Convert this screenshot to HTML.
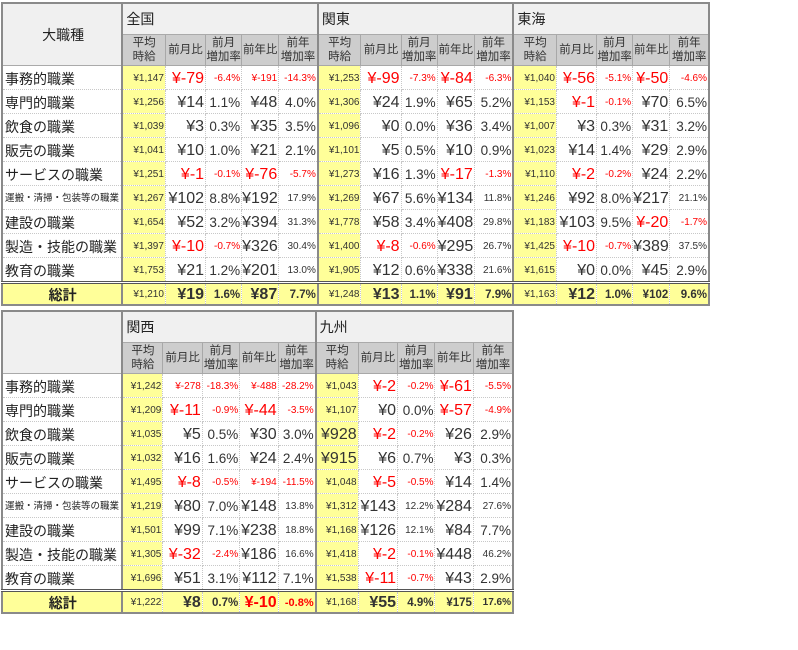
<!DOCTYPE html>
<html><head><meta charset="utf-8">
<style>
body{margin:0;background:#fff;width:798px;height:650px;position:relative;overflow:hidden;font-family:"Liberation Sans","Noto Sans CJK JP",sans-serif;}
table{position:absolute;left:1px;border-collapse:collapse;table-layout:fixed;border:2px solid #8a8a8a;color:#333;}
td{padding:0 1px 0 0;text-align:right;font-size:16px;white-space:nowrap;overflow:hidden;border:1px dotted #c8c8c8;height:23px;vertical-align:bottom;line-height:20px;}
td.l{text-align:left;font-size:14px;padding-left:2px;border-right:2px solid #8a8a8a;color:#222}
td.ls{font-size:9.5px}
td.y{background:#ffff99;font-size:10px;border-left:2px solid #8a8a8a;}
td.p{font-size:13.5px}
td.s{font-size:10px}
.r{color:#f00}
tr.h1 td{height:30px;background:#f0f0f0;text-align:left;font-size:14px;vertical-align:middle;border:1px solid #aaa;border-left:2px solid #8a8a8a;padding-left:3px;color:#222}
tr.h2 td{height:30px;background:#cdcdcd;text-align:center;font-size:11.5px;line-height:14px;vertical-align:middle;border:1px solid #a8a8a8;padding:0;color:#333}
tr.h2 td.y0{border-left:2px solid #8a8a8a}
td.corner{background:#f0f0f0!important;text-align:center!important;font-size:14px!important;border-right:2px solid #8a8a8a!important;vertical-align:middle}
tr.t td{background:#ffff99;font-weight:bold;height:20px;border-top:3px double #555;line-height:18px;}
tr.t td.y{font-weight:normal}
tr.t td.l{text-align:center;font-weight:bold}
</style></head><body>

<table style="top:2px;width:709px">
<colgroup><col style="width:120px"><col style="width:43px"><col style="width:40px"><col style="width:36px"><col style="width:37px"><col style="width:39px"><col style="width:43px"><col style="width:40px"><col style="width:36px"><col style="width:37px"><col style="width:39px"><col style="width:43px"><col style="width:40px"><col style="width:36px"><col style="width:37px"><col style="width:39px"></colgroup>
<tr class="h1"><td class="corner" rowspan="2">大職種</td><td colspan="5">全国</td><td colspan="5">関東</td><td colspan="5">東海</td></tr>
<tr class="h2"><td class="y0">平均<br>時給</td><td>前月比</td><td>前月<br>増加率</td><td>前年比</td><td>前年<br>増加率</td><td class="y0">平均<br>時給</td><td>前月比</td><td>前月<br>増加率</td><td>前年比</td><td>前年<br>増加率</td><td class="y0">平均<br>時給</td><td>前月比</td><td>前月<br>増加率</td><td>前年比</td><td>前年<br>増加率</td></tr>
<tr><td class="l">事務的職業</td><td class="y">¥1,147</td><td class="r">¥-79</td><td class="s r">-6.4%</td><td class="s r">¥-191</td><td class="s r">-14.3%</td><td class="y">¥1,253</td><td class="r">¥-99</td><td class="s r">-7.3%</td><td class="r">¥-84</td><td class="s r">-6.3%</td><td class="y">¥1,040</td><td class="r">¥-56</td><td class="s r">-5.1%</td><td class="r">¥-50</td><td class="s r">-4.6%</td></tr>
<tr><td class="l">専門的職業</td><td class="y">¥1,256</td><td>¥14</td><td class="p">1.1%</td><td>¥48</td><td class="p">4.0%</td><td class="y">¥1,306</td><td>¥24</td><td class="p">1.9%</td><td>¥65</td><td class="p">5.2%</td><td class="y">¥1,153</td><td class="r">¥-1</td><td class="s r">-0.1%</td><td>¥70</td><td class="p">6.5%</td></tr>
<tr><td class="l">飲食の職業</td><td class="y">¥1,039</td><td>¥3</td><td class="p">0.3%</td><td>¥35</td><td class="p">3.5%</td><td class="y">¥1,096</td><td>¥0</td><td class="p">0.0%</td><td>¥36</td><td class="p">3.4%</td><td class="y">¥1,007</td><td>¥3</td><td class="p">0.3%</td><td>¥31</td><td class="p">3.2%</td></tr>
<tr><td class="l">販売の職業</td><td class="y">¥1,041</td><td>¥10</td><td class="p">1.0%</td><td>¥21</td><td class="p">2.1%</td><td class="y">¥1,101</td><td>¥5</td><td class="p">0.5%</td><td>¥10</td><td class="p">0.9%</td><td class="y">¥1,023</td><td>¥14</td><td class="p">1.4%</td><td>¥29</td><td class="p">2.9%</td></tr>
<tr><td class="l">サービスの職業</td><td class="y">¥1,251</td><td class="r">¥-1</td><td class="s r">-0.1%</td><td class="r">¥-76</td><td class="s r">-5.7%</td><td class="y">¥1,273</td><td>¥16</td><td class="p">1.3%</td><td class="r">¥-17</td><td class="s r">-1.3%</td><td class="y">¥1,110</td><td class="r">¥-2</td><td class="s r">-0.2%</td><td>¥24</td><td class="p">2.2%</td></tr>
<tr><td class="l ls">運搬・清掃・包装等の職業</td><td class="y">¥1,267</td><td>¥102</td><td class="p">8.8%</td><td>¥192</td><td class="s">17.9%</td><td class="y">¥1,269</td><td>¥67</td><td class="p">5.6%</td><td>¥134</td><td class="s">11.8%</td><td class="y">¥1,246</td><td>¥92</td><td class="p">8.0%</td><td>¥217</td><td class="s">21.1%</td></tr>
<tr><td class="l">建設の職業</td><td class="y">¥1,654</td><td>¥52</td><td class="p">3.2%</td><td>¥394</td><td class="s">31.3%</td><td class="y">¥1,778</td><td>¥58</td><td class="p">3.4%</td><td>¥408</td><td class="s">29.8%</td><td class="y">¥1,183</td><td>¥103</td><td class="p">9.5%</td><td class="r">¥-20</td><td class="s r">-1.7%</td></tr>
<tr><td class="l">製造・技能の職業</td><td class="y">¥1,397</td><td class="r">¥-10</td><td class="s r">-0.7%</td><td>¥326</td><td class="s">30.4%</td><td class="y">¥1,400</td><td class="r">¥-8</td><td class="s r">-0.6%</td><td>¥295</td><td class="s">26.7%</td><td class="y">¥1,425</td><td class="r">¥-10</td><td class="s r">-0.7%</td><td>¥389</td><td class="s">37.5%</td></tr>
<tr><td class="l">教育の職業</td><td class="y">¥1,753</td><td>¥21</td><td class="p">1.2%</td><td>¥201</td><td class="s">13.0%</td><td class="y">¥1,905</td><td>¥12</td><td class="p">0.6%</td><td>¥338</td><td class="s">21.6%</td><td class="y">¥1,615</td><td>¥0</td><td class="p">0.0%</td><td>¥45</td><td class="p">2.9%</td></tr>
<tr class="t"><td class="l">総計</td><td class="y">¥1,210</td><td>¥19</td><td style="font-size:11.5px">1.6%</td><td>¥87</td><td style="font-size:11.5px">7.7%</td><td class="y">¥1,248</td><td>¥13</td><td style="font-size:11.5px">1.1%</td><td>¥91</td><td style="font-size:11.5px">7.9%</td><td class="y">¥1,163</td><td>¥12</td><td style="font-size:11.5px">1.0%</td><td style="font-size:11.5px">¥102</td><td style="font-size:11.5px">9.6%</td></tr>
</table>

<table style="top:310px;width:513px">
<colgroup><col style="width:119px"><col style="width:40px"><col style="width:39px"><col style="width:37px"><col style="width:38px"><col style="width:37px"><col style="width:42px"><col style="width:39px"><col style="width:37px"><col style="width:38px"><col style="width:39px"></colgroup>
<tr class="h1"><td class="corner" rowspan="2"></td><td colspan="5">関西</td><td colspan="5">九州</td></tr>
<tr class="h2"><td class="y0">平均<br>時給</td><td>前月比</td><td>前月<br>増加率</td><td>前年比</td><td>前年<br>増加率</td><td class="y0">平均<br>時給</td><td>前月比</td><td>前月<br>増加率</td><td>前年比</td><td>前年<br>増加率</td></tr>
<tr><td class="l">事務的職業</td><td class="y">¥1,242</td><td class="s r">¥-278</td><td class="s r">-18.3%</td><td class="s r">¥-488</td><td class="s r">-28.2%</td><td class="y">¥1,043</td><td class="r">¥-2</td><td class="s r">-0.2%</td><td class="r">¥-61</td><td class="s r">-5.5%</td></tr>
<tr><td class="l">専門的職業</td><td class="y">¥1,209</td><td class="r">¥-11</td><td class="s r">-0.9%</td><td class="r">¥-44</td><td class="s r">-3.5%</td><td class="y">¥1,107</td><td>¥0</td><td class="p">0.0%</td><td class="r">¥-57</td><td class="s r">-4.9%</td></tr>
<tr><td class="l">飲食の職業</td><td class="y">¥1,035</td><td>¥5</td><td class="p">0.5%</td><td>¥30</td><td class="p">3.0%</td><td class="y" style="font-size:16px">¥928</td><td class="r">¥-2</td><td class="s r">-0.2%</td><td>¥26</td><td class="p">2.9%</td></tr>
<tr><td class="l">販売の職業</td><td class="y">¥1,032</td><td>¥16</td><td class="p">1.6%</td><td>¥24</td><td class="p">2.4%</td><td class="y" style="font-size:16px">¥915</td><td>¥6</td><td class="p">0.7%</td><td>¥3</td><td class="p">0.3%</td></tr>
<tr><td class="l">サービスの職業</td><td class="y">¥1,495</td><td class="r">¥-8</td><td class="s r">-0.5%</td><td class="s r">¥-194</td><td class="s r">-11.5%</td><td class="y">¥1,048</td><td class="r">¥-5</td><td class="s r">-0.5%</td><td>¥14</td><td class="p">1.4%</td></tr>
<tr><td class="l ls">運搬・清掃・包装等の職業</td><td class="y">¥1,219</td><td>¥80</td><td class="p">7.0%</td><td>¥148</td><td class="s">13.8%</td><td class="y">¥1,312</td><td>¥143</td><td class="s">12.2%</td><td>¥284</td><td class="s">27.6%</td></tr>
<tr><td class="l">建設の職業</td><td class="y">¥1,501</td><td>¥99</td><td class="p">7.1%</td><td>¥238</td><td class="s">18.8%</td><td class="y">¥1,168</td><td>¥126</td><td class="s">12.1%</td><td>¥84</td><td class="p">7.7%</td></tr>
<tr><td class="l">製造・技能の職業</td><td class="y">¥1,305</td><td class="r">¥-32</td><td class="s r">-2.4%</td><td>¥186</td><td class="s">16.6%</td><td class="y">¥1,418</td><td class="r">¥-2</td><td class="s r">-0.1%</td><td>¥448</td><td class="s">46.2%</td></tr>
<tr><td class="l">教育の職業</td><td class="y">¥1,696</td><td>¥51</td><td class="p">3.1%</td><td>¥112</td><td class="p">7.1%</td><td class="y">¥1,538</td><td class="r">¥-11</td><td class="s r">-0.7%</td><td>¥43</td><td class="p">2.9%</td></tr>
<tr class="t"><td class="l">総計</td><td class="y">¥1,222</td><td>¥8</td><td style="font-size:11.5px">0.7%</td><td class="r">¥-10</td><td class="r" style="font-size:11px">-0.8%</td><td class="y">¥1,168</td><td>¥55</td><td style="font-size:11.5px">4.9%</td><td style="font-size:11.5px">¥175</td><td style="font-size:10px">17.6%</td></tr>
</table>
</body></html>
